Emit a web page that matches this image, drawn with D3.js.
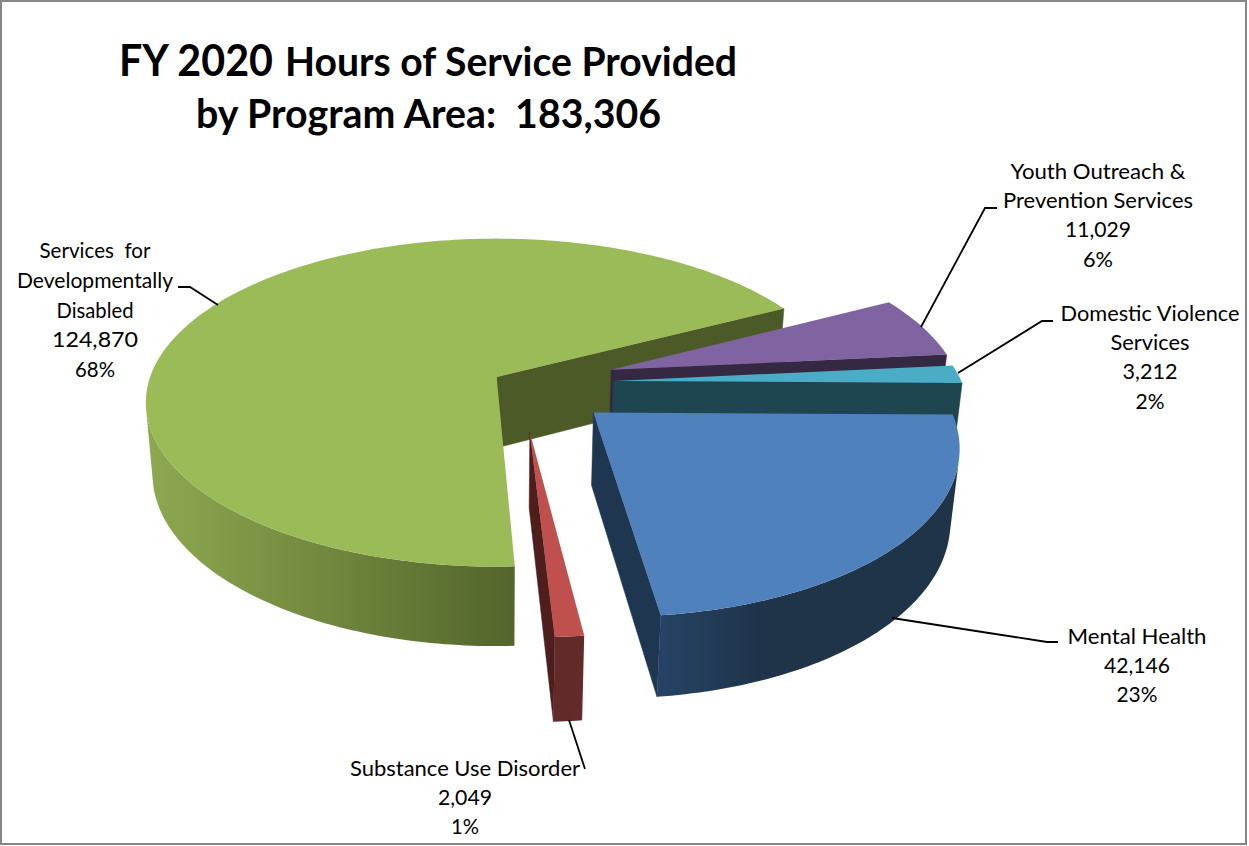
<!DOCTYPE html>
<html><head><meta charset="utf-8">
<script src="https://cdn.jsdelivr.net/npm/d3@7"></script>
<style>html,body{margin:0;padding:0;background:#fff}svg{display:block}text{font-family:Lato,"Open Sans",sans-serif;fill:#000;white-space:pre}</style>
</head><body><svg id="c" width="1249" height="846"></svg>
<script>
// --- data (clockwise from the front cut of the green slice)
const categories = ["Services  for|Developmentally|Disabled","Youth Outreach &|Prevention Services","Domestic Violence|Services","Mental Health","Substance Use Disorder"];
const values = [124870, 11029, 3212, 42146, 2049];
const percents = ["68%","6%","2%","23%","1%"];
const titleRuns = ["FY 2020","Hours of Service Provided","by Program Area:  183,306"];
// --- style / layout
const topColors  = ["#9BBB59","#8064A2","#4BACC6","#4F81BD","#C0504D"];
const cutColors  = ["#4C5A27","#352843","#1E4550","#1F3650","#4E1E1C"];
const rimColors  = [["#8DA850","#53652B"],["#352843","#352843"],["#1E4550","#1E4550"],["#264365","#1F3349"],["#622A28","#622A28"]];
const rimExtent  = [[150,515],[600,960],[600,960],[660,765],[550,590]];
const explodeX = [0, .333, .336, .270, .091];
const explodeY = [0, .045, -.025, -.215, -.327];
const radii    = [1, 1, 1, 1, .97];
const depths   = [.235, .235, .235, .235, .242];
const labelCenter = [[95,250],[1098,171],[1150,313],[1137,636],[465,768]];
const lineGaps = [29.8, 29.2, 29.2, 29.2, 29.2];
const labelWidths = [[111,156,77,86,40],[175,190,66,30],[179,79,55,29],[139,66,41],[230,54,28]];
const leaders = [
 [[218,305],[190,287],[178,287]],
 [[921,327],[985,208],[997,208]],
 [[958,373],[1042,321],[1053,321]],
 [[892,618],[1047,642],[1058,642]],
 [[569,720],[585,769]]];
const CX=496.6, CY=377, F=1968, D=5.68, ELEV=27.5*Math.PI/180;
const S=Math.sin(ELEV), C=Math.cos(ELEV);
const project=(X,Y,Z)=>{const yv=Y*S+Z*C, zv=Y*C-Z*S, k=F/(D+zv); return [CX+X*k, CY-yv*k];};
const cam=[0,-D*C];

const svg=d3.select("#c");
svg.append("rect").attr("x",1).attr("y",1).attr("width",1245).attr("height",843).attr("fill","#fff").attr("stroke","#868686").attr("stroke-width",2);
const defs=svg.append("defs");
const line=d3.line();
const start=177.46*Math.PI/180;
const pie=d3.pie().sort(null).startAngle(start).endAngle(start+2*Math.PI);
const arcs=pie(values);

arcs.forEach((a,i)=>{
  const ox=explodeX[i], oy=explodeY[i], r=radii[i], H=depths[i];
  const n=Math.max(2,Math.ceil((a.endAngle-a.startAngle)/(Math.PI/180)));
  const angles=d3.range(n+1).map(k=>a.startAngle+(a.endAngle-a.startAngle)*k/n);
  const rim=(t,z)=>project(ox+r*Math.sin(t),oy+r*Math.cos(t),z);
  const tip=z=>project(ox,oy,z);
  const gid="rim"+i;
  const g=defs.append("linearGradient").attr("id",gid).attr("gradientUnits","userSpaceOnUse")
    .attr("x1",rimExtent[i][0]).attr("x2",rimExtent[i][1]).attr("y1",0).attr("y2",0);
  g.append("stop").attr("offset",0).attr("stop-color",rimColors[i][0]);
  g.append("stop").attr("offset",1).attr("stop-color",rimColors[i][1]);
  const G=svg.append("g").attr("class","slice");
  // radial cut walls, only when they face the camera
  [[a.startAngle,-1],[a.endAngle,1]].forEach(([t,sgn])=>{
    const nx=sgn*Math.cos(t), ny=-sgn*Math.sin(t);
    if(nx*(cam[0]-ox)+ny*(cam[1]-oy)>0){
      G.append("path").attr("d",line([tip(0),rim(t,0),rim(t,-H),tip(-H)])+"Z")
       .attr("fill",cutColors[i]).attr("stroke",cutColors[i]).attr("stroke-width",.5);
    }
  });
  // outer wall, front facing part only
  const vis=angles.filter(t=>{
    const px=ox+r*Math.sin(t), py=oy+r*Math.cos(t);
    return Math.sin(t)*(cam[0]-px)+Math.cos(t)*(cam[1]-py)>0;});
  if(vis.length>1){
    const pts=vis.map(t=>rim(t,0)).concat(vis.slice().reverse().map(t=>rim(t,-H)));
    G.append("path").attr("d",line(pts)+"Z").attr("fill",`url(#${gid})`);
  }
  // top face
  const top=[tip(0)].concat(angles.map(t=>rim(t,0)));
  G.append("path").attr("d",line(top)+"Z").attr("fill",topColors[i]);
});

// leaders
leaders.forEach(p=>svg.append("path").attr("d",line(p)).attr("fill","none").attr("stroke","#000").attr("stroke-width",1.8));

// labels
const fmt=d3.format(",");
categories.forEach((c,i)=>{
  const lines=c.split("|").concat([fmt(values[i]),percents[i]]);
  lines.forEach((t,k)=>{
    svg.append("text").attr("x",labelCenter[i][0]).attr("y",labelCenter[i][1]+k*lineGaps[i])
      .attr("text-anchor","middle").attr("dominant-baseline","central").attr("font-size",21.5)
      .attr("textLength",labelWidths[i][k]).attr("lengthAdjust","spacingAndGlyphs").text(t);
  });
});
// title
const titleSpec=[[119,76,44,154],[285,76,40,452],[196,128,40,465]];
titleRuns.forEach((t,i)=>{
  const s=titleSpec[i];
  svg.append("text").attr("x",s[0]).attr("y",s[1]).attr("font-size",s[2]).attr("font-weight",700)
    .attr("textLength",s[3]).attr("lengthAdjust","spacingAndGlyphs").text(t);
});
</script></body></html>
